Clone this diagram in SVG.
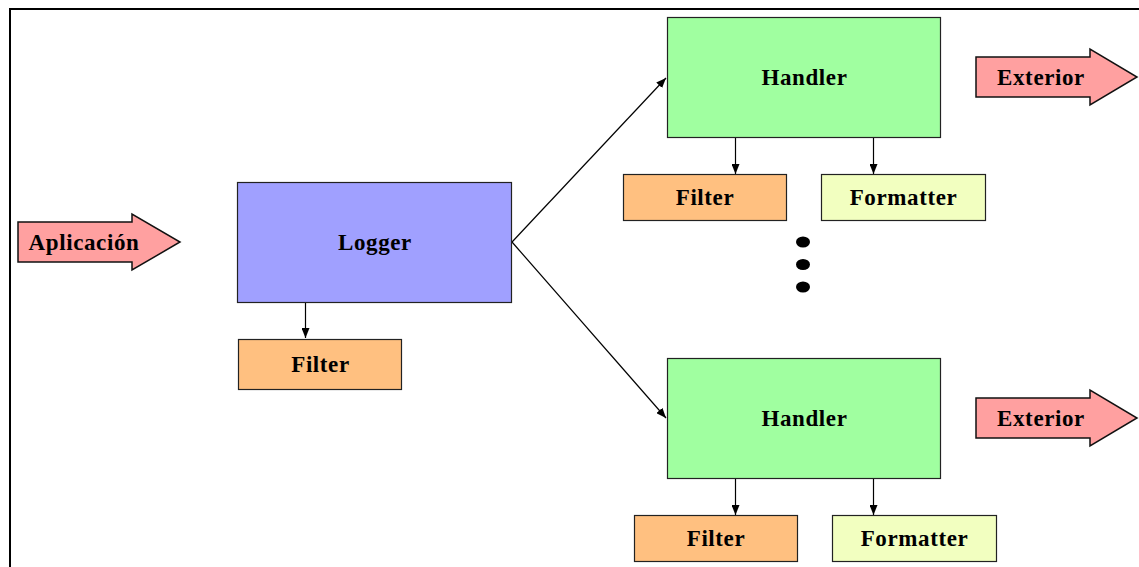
<svg xmlns="http://www.w3.org/2000/svg" width="1139" height="567" viewBox="0 0 1139 567">
  <style>
    .box { stroke: #222; stroke-width: 1.2; }
    .logger { fill: #A0A0FF; }
    .handler { fill: #A0FFA0; }
    .filter { fill: #FFC080; }
    .formatter { fill: #F2FFC0; }
    .flow { fill: #FFA0A0; stroke: #111; stroke-width: 1.5; stroke-linejoin: miter; }
    .label { font-family: "Liberation Serif", "Times New Roman", serif; font-weight: bold; font-size: 23px; letter-spacing: 0.6px; fill: #000; text-anchor: middle; }
    .link { stroke: #000; stroke-width: 1.2; fill: none; marker-end: url(#head); }
  </style>
  <defs>
    <marker id="head" viewBox="0 0 10 8" refX="10" refY="4" markerWidth="10" markerHeight="8" markerUnits="userSpaceOnUse" orient="auto">
      <path d="M0,0 L10,4 L0,8 Z" fill="#000"/>
    </marker>
  </defs>

  <!-- outer frame -->
  <path d="M10,567 V9 H1139" fill="none" stroke="#000" stroke-width="2"/>

  <!-- connectors -->
  <g id="connectors">
    <line class="link" x1="512" y1="242" x2="666" y2="78"/>
    <line class="link" x1="512" y1="242" x2="666" y2="418"/>
    <line class="link" x1="305.5" y1="302" x2="305.5" y2="338"/>
    <line class="link" x1="735.5" y1="137" x2="735.5" y2="174"/>
    <line class="link" x1="873.5" y1="137" x2="873.5" y2="174"/>
    <line class="link" x1="735.5" y1="478" x2="735.5" y2="515"/>
    <line class="link" x1="873.5" y1="478" x2="873.5" y2="515"/>
  </g>

  <!-- incoming flow -->
  <g id="aplicacion">
    <path class="flow" d="M18,222 H132 V214 L180,242 L132,270 V262 H18 Z"/>
    <text class="label" x="84" y="249.5">Aplicación</text>
  </g>

  <g id="logger">
    <rect class="box logger" x="237.5" y="182.5" width="274" height="120"/>
    <text class="label" x="375" y="249.5">Logger</text>
  </g>

  <g id="logger-filter">
    <rect class="box filter" x="238.5" y="339.5" width="163" height="50"/>
    <text class="label" x="320.5" y="371.5">Filter</text>
  </g>

  <!-- first handler chain -->
  <g id="handler-1">
    <rect class="box handler" x="667.5" y="17.5" width="273" height="120"/>
    <text class="label" x="804.5" y="84.5">Handler</text>
  </g>
  <g id="handler-1-filter">
    <rect class="box filter" x="623.5" y="174.5" width="163" height="46"/>
    <text class="label" x="705" y="204.5">Filter</text>
  </g>
  <g id="handler-1-formatter">
    <rect class="box formatter" x="821.5" y="174.5" width="164" height="46"/>
    <text class="label" x="903.5" y="204.5">Formatter</text>
  </g>
  <g id="exterior-1">
    <path class="flow" d="M976,57 H1090 V49 L1137,77 L1090,105 V97 H976 Z"/>
    <text class="label" x="1041" y="84.5">Exterior</text>
  </g>

  <!-- ellipsis between handlers -->
  <g id="more-handlers" fill="#000">
    <ellipse cx="803" cy="242" rx="7" ry="5.5"/>
    <ellipse cx="803" cy="264.5" rx="7" ry="5.5"/>
    <ellipse cx="803" cy="287" rx="7" ry="5.5"/>
  </g>

  <!-- second handler chain -->
  <g id="handler-2">
    <rect class="box handler" x="667.5" y="358.5" width="273" height="120"/>
    <text class="label" x="804.5" y="425.5">Handler</text>
  </g>
  <g id="handler-2-filter">
    <rect class="box filter" x="634.5" y="515.5" width="163" height="46"/>
    <text class="label" x="716" y="545.5">Filter</text>
  </g>
  <g id="handler-2-formatter">
    <rect class="box formatter" x="832.5" y="515.5" width="164" height="46"/>
    <text class="label" x="914.5" y="545.5">Formatter</text>
  </g>
  <g id="exterior-2">
    <path class="flow" d="M976,398 H1090 V390 L1137,418 L1090,446 V438 H976 Z"/>
    <text class="label" x="1041" y="425.5">Exterior</text>
  </g>
</svg>
